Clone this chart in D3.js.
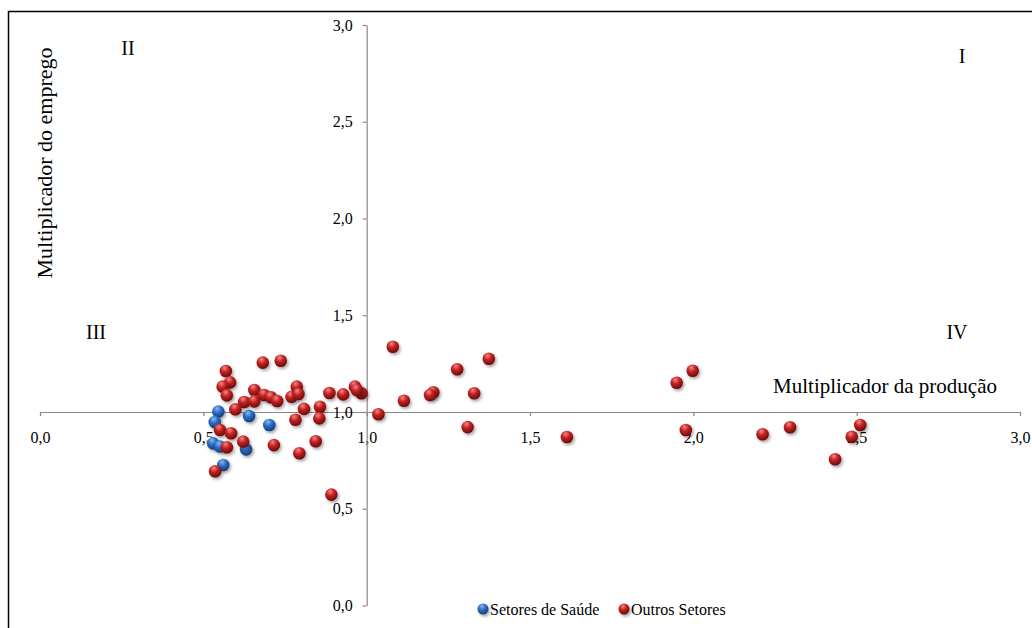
<!DOCTYPE html>
<html><head><meta charset="utf-8">
<script src="https://cdn.jsdelivr.net/npm/d3@7"></script>
<style>body{margin:0;background:#fff}svg{display:block}svg text{font-family:"Liberation Serif",Tinos,"Times New Roman",Times,"DejaVu Serif",serif !important}</style>
</head><body><div id="c"></div>
<script>
const xTicks = [0, 0.5, 1.0, 1.5, 2.0, 2.5, 3.0];
const yTicks = [0, 0.5, 1.0, 1.5, 2.0, 2.5, 3.0];
const seriesNames = ["Setores de Saúde", "Outros Setores"];
const quadrantLabels = ["I", "II", "III", "IV"];
const saudeX = [0.546, 0.640, 0.535, 0.702, 0.530, 0.551, 0.631, 0.561];
const saudeY = [1.002, 0.979, 0.948, 0.933, 0.838, 0.822, 0.807, 0.726];
const outrosX = [0.682,0.737,0.569,0.582,0.559,0.572,0.656,0.625,0.656,0.686,0.707,0.726,0.770,0.786,0.791,0.808,0.857,0.886,0.928,0.964,0.984,0.970,0.598,0.782,0.855,1.036,0.551,0.585,0.622,0.572,0.716,0.844,0.794,0.536,0.892,1.080,1.374,1.277,1.204,1.194,1.329,1.114,1.309,1.613,1.949,1.998,1.977,2.212,2.296,2.511,2.485,2.434];
const outrosY = [1.255,1.265,1.212,1.153,1.131,1.086,1.114,1.052,1.055,1.088,1.076,1.057,1.078,1.131,1.093,1.016,1.027,1.098,1.091,1.131,1.097,1.114,1.014,0.960,0.967,0.988,0.907,0.890,0.847,0.818,0.829,0.849,0.787,0.694,0.573,1.337,1.275,1.221,1.102,1.088,1.097,1.058,0.922,0.871,1.151,1.213,0.907,0.885,0.921,0.933,0.872,0.756];
const xTitle = "Multiplicador da produção";
const yTitle = "Multiplicador do emprego";

const W = 1032, H = 628;
const FONT = '"Liberation Serif", Tinos, "Times New Roman", Times, "DejaVu Serif", serif';
const svg = d3.select("#c").append("svg").attr("width", W).attr("height", H).attr("font-family", FONT);
const defs = svg.append("defs");
function grad(id, light, mid, dark) {
  const g = defs.append("radialGradient").attr("id", id).attr("cx", "40%").attr("cy", "30%").attr("r", "70%").attr("fx", "40%").attr("fy", "25%");
  g.append("stop").attr("offset", "0%").attr("stop-color", light);
  g.append("stop").attr("offset", "45%").attr("stop-color", mid);
  g.append("stop").attr("offset", "100%").attr("stop-color", dark);
}
grad("gBlue", "#8fb8ee", "#2e6ec6", "#123d7a");
grad("gRed", "#f08a8a", "#c62222", "#6a0a0a");
const f = defs.append("filter").attr("id", "sh").attr("x", "-50%").attr("y", "-50%").attr("width", "200%").attr("height", "200%");
f.append("feDropShadow").attr("dx", 1.5).attr("dy", 2).attr("stdDeviation", 1.5).attr("flood-color", "#000").attr("flood-opacity", 0.35);

// outer border (top & left)
svg.append("path").attr("d", `M8.5,${H} V11.5 H${W}`).attr("fill", "none").attr("stroke", "#000").attr("stroke-width", 1.5);

const x = d3.scaleLinear().domain([0, 3]).range([40, 1020]);
const y = d3.scaleLinear().domain([0, 3]).range([605.5, 25]);
const fmt = d => d3.format(".1f")(d).replace(".", ",");

const xAxis = svg.append("g").attr("transform", `translate(0,${y(1)})`)
  .call(d3.axisBottom(x).tickValues(xTicks).tickFormat(fmt).tickSizeInner(4).tickSizeOuter(0));
const yAxis = svg.append("g").attr("transform", `translate(${x(1)},0)`)
  .call(d3.axisLeft(y).tickValues(yTicks).tickFormat(fmt).tickSizeInner(4).tickSizeOuter(0));
xAxis.attr("font-family", FONT); yAxis.attr("font-family", FONT);
xAxis.selectAll("text").attr("dy", 0).attr("y", 31).attr("font-size", 16).attr("fill", "#000");
yAxis.selectAll("text").attr("x", -14).attr("dy", "0.32em").attr("font-size", 16).attr("fill", "#000");
svg.selectAll(".domain, .tick line").attr("stroke", "#888").attr("stroke-width", 1.2);

// titles
svg.append("text").attr("x", 997).attr("y", 393).attr("text-anchor", "end").attr("font-size", 21).text(xTitle);
svg.append("text").attr("transform", "translate(52,163) rotate(-90)").attr("text-anchor", "middle").attr("font-size", 22).text(yTitle);

// quadrant labels
const qPos = [[962, 63], [128, 55], [96, 339], [957, 339]];
quadrantLabels.forEach((q, i) => {
  svg.append("text").attr("x", qPos[i][0]).attr("y", qPos[i][1]).attr("text-anchor", "middle").attr("font-size", 20).text(q);
});

// points
const saude = saudeX.map((v, i) => ({x: v, y: saudeY[i]}));
const outros = outrosX.map((v, i) => ({x: v, y: outrosY[i]}));
svg.append("g").selectAll("circle").data(saude).join("circle")
  .attr("cx", d => x(d.x)).attr("cy", d => y(d.y)).attr("r", 6.3)
  .attr("fill", "url(#gBlue)").attr("filter", "url(#sh)");
svg.append("g").selectAll("circle").data(outros).join("circle")
  .attr("cx", d => x(d.x)).attr("cy", d => y(d.y)).attr("r", 6.3)
  .attr("fill", "url(#gRed)").attr("filter", "url(#sh)");

// legend
const leg = svg.append("g");
const legItems = [{name: seriesNames[0], g: "url(#gBlue)", x: 483}, {name: seriesNames[1], g: "url(#gRed)", x: 624}];
legItems.forEach(it => {
  leg.append("circle").attr("cx", it.x).attr("cy", 609).attr("r", 5.5).attr("fill", it.g).attr("filter", "url(#sh)");
  leg.append("text").attr("x", it.x + 7).attr("y", 615).attr("font-size", 16).text(it.name);
});
</script></body></html>
